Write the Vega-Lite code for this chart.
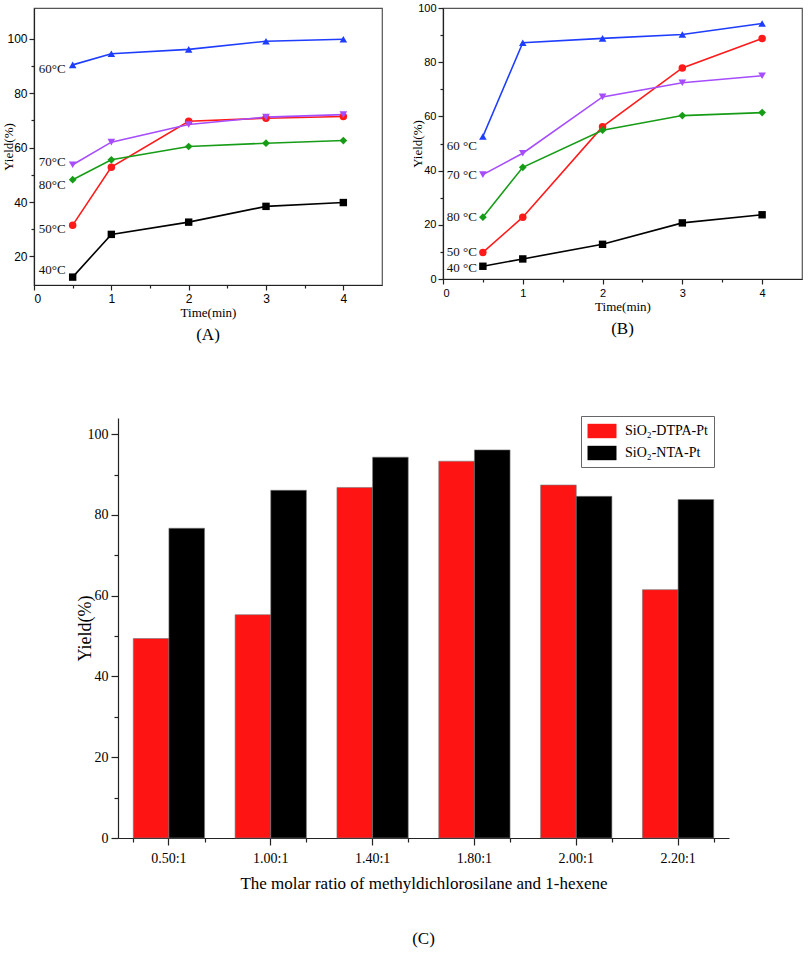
{
  "$schema": "https://vega.github.io/schema/vega-lite/v6.json",
  "background": "white",
  "padding": {"left": 2, "top": 1, "right": 2, "bottom": 5},
  "config": {
    "view": {"stroke": "#555", "strokeWidth": 1.2},
    "axis": {"grid": false, "domainColor": "#222", "tickColor": "#222", "labelColor": "#000", "titleColor": "#000", "titleFontWeight": "normal", "domainWidth": 1.2, "tickWidth": 1.2},
    "title": {"fontWeight": "normal", "color": "#000"}
  },
  "datasets": {
    "lineA": [
      {"t": 0.5, "y": 12.4, "temp": "40"}, {"t": 1, "y": 28.1, "temp": "40"}, {"t": 2, "y": 32.6, "temp": "40"}, {"t": 3, "y": 38.4, "temp": "40"}, {"t": 4, "y": 39.8, "temp": "40"},
      {"t": 0.5, "y": 31.5, "temp": "50"}, {"t": 1, "y": 52.8, "temp": "50"}, {"t": 2, "y": 69.7, "temp": "50"}, {"t": 3, "y": 70.8, "temp": "50"}, {"t": 4, "y": 71.4, "temp": "50"},
      {"t": 0.5, "y": 90.4, "temp": "60"}, {"t": 1, "y": 94.5, "temp": "60"}, {"t": 2, "y": 96.1, "temp": "60"}, {"t": 3, "y": 99.1, "temp": "60"}, {"t": 4, "y": 99.8, "temp": "60"},
      {"t": 0.5, "y": 53.7, "temp": "70"}, {"t": 1, "y": 62.0, "temp": "70"}, {"t": 2, "y": 68.5, "temp": "70"}, {"t": 3, "y": 71.2, "temp": "70"}, {"t": 4, "y": 72.1, "temp": "70"},
      {"t": 0.5, "y": 48.2, "temp": "80"}, {"t": 1, "y": 55.5, "temp": "80"}, {"t": 2, "y": 60.4, "temp": "80"}, {"t": 3, "y": 61.6, "temp": "80"}, {"t": 4, "y": 62.6, "temp": "80"}
    ],
    "lineB": [
      {"t": 0.5, "y": 4.7, "temp": "40"}, {"t": 1, "y": 7.4, "temp": "40"}, {"t": 2, "y": 12.8, "temp": "40"}, {"t": 3, "y": 20.7, "temp": "40"}, {"t": 4, "y": 23.7, "temp": "40"},
      {"t": 0.5, "y": 9.8, "temp": "50"}, {"t": 1, "y": 22.8, "temp": "50"}, {"t": 2, "y": 56.2, "temp": "50"}, {"t": 3, "y": 77.9, "temp": "50"}, {"t": 4, "y": 88.7, "temp": "50"},
      {"t": 0.5, "y": 52.6, "temp": "60"}, {"t": 1, "y": 87.2, "temp": "60"}, {"t": 2, "y": 88.8, "temp": "60"}, {"t": 3, "y": 90.2, "temp": "60"}, {"t": 4, "y": 94.3, "temp": "60"},
      {"t": 0.5, "y": 38.5, "temp": "70"}, {"t": 1, "y": 46.4, "temp": "70"}, {"t": 2, "y": 67.2, "temp": "70"}, {"t": 3, "y": 72.4, "temp": "70"}, {"t": 4, "y": 75.0, "temp": "70"},
      {"t": 0.5, "y": 22.8, "temp": "80"}, {"t": 1, "y": 41.2, "temp": "80"}, {"t": 2, "y": 54.9, "temp": "80"}, {"t": 3, "y": 60.3, "temp": "80"}, {"t": 4, "y": 61.4, "temp": "80"}
    ],
    "labA": [
      {"t": 0.5, "y": 88.9, "label": "60°C"},
      {"t": 0.5, "y": 54.7, "label": "70°C"},
      {"t": 0.5, "y": 46.3, "label": "80°C"},
      {"t": 0.5, "y": 30.1, "label": "50°C"},
      {"t": 0.5, "y": 15.0, "label": "40°C"}
    ],
    "labB": [
      {"t": 0.5, "y": 49.0, "label": "60 °C"},
      {"t": 0.5, "y": 38.5, "label": "70 °C"},
      {"t": 0.5, "y": 22.8, "label": "80 °C"},
      {"t": 0.5, "y": 9.9, "label": "50 °C"},
      {"t": 0.5, "y": 4.1, "label": "40 °C"}
    ],
    "bars": [
      {"ratio": "0.50:1", "cat": "SiO₂-DTPA-Pt", "yield": 49.4}, {"ratio": "0.50:1", "cat": "SiO₂-NTA-Pt", "yield": 76.7},
      {"ratio": "1.00:1", "cat": "SiO₂-DTPA-Pt", "yield": 55.3}, {"ratio": "1.00:1", "cat": "SiO₂-NTA-Pt", "yield": 86.1},
      {"ratio": "1.40:1", "cat": "SiO₂-DTPA-Pt", "yield": 86.8}, {"ratio": "1.40:1", "cat": "SiO₂-NTA-Pt", "yield": 94.3},
      {"ratio": "1.80:1", "cat": "SiO₂-DTPA-Pt", "yield": 93.3}, {"ratio": "1.80:1", "cat": "SiO₂-NTA-Pt", "yield": 96.1},
      {"ratio": "2.00:1", "cat": "SiO₂-DTPA-Pt", "yield": 87.4}, {"ratio": "2.00:1", "cat": "SiO₂-NTA-Pt", "yield": 84.6},
      {"ratio": "2.20:1", "cat": "SiO₂-DTPA-Pt", "yield": 61.5}, {"ratio": "2.20:1", "cat": "SiO₂-NTA-Pt", "yield": 83.8}
    ]
  },
  "spacing": 71,
  "resolve": {"scale": {"color": "independent", "shape": "independent", "size": "independent"}, "legend": {"color": "independent"}},
  "vconcat": [
    {
      "spacing": 28,
      "hconcat": [
        {
          "width": 348, "height": 277,
          "title": {"text": "(A)", "orient": "bottom", "font": "Liberation Serif", "fontSize": 17, "offset": 8},
          "resolve": {"axis": {"x": "independent", "y": "independent"}},
          "layer": [
            {
              "data": {"name": "lineA"},
              "mark": {"type": "line", "strokeWidth": 1.6},
              "encoding": {
                "x": {"field": "t", "type": "quantitative", "scale": {"domain": [0, 4.5], "nice": false},
                  "axis": {"values": [0, 1, 2, 3, 4], "format": "d", "title": "Time(min)", "titleFont": "Liberation Serif", "titleFontSize": 13, "labelFont": "Liberation Sans", "labelFontSize": 12, "tickSize": 5, "labelPadding": 3, "titlePadding": 2}},
                "y": {"field": "y", "type": "quantitative", "scale": {"domain": [9.5, 111.3], "nice": false, "zero": false},
                  "axis": {"values": [20, 40, 60, 80, 100], "title": "Yield(%)", "titleFont": "Liberation Serif", "titleFontSize": 13, "labelFont": "Liberation Sans", "labelFontSize": 12, "tickSize": 5, "labelPadding": 2, "titlePadding": -9}},
                "color": {"field": "temp", "type": "nominal", "scale": {"domain": ["40", "50", "60", "70", "80"], "range": ["#000000", "#ff1a1a", "#1f3dff", "#a64dff", "#179c17"]}, "legend": null}
              }
            },
            {
              "data": {"name": "lineA"},
              "mark": {"type": "point", "filled": true, "opacity": 1},
              "encoding": {
                "x": {"field": "t", "type": "quantitative", "axis": null},
                "y": {"field": "y", "type": "quantitative", "axis": null},
                "color": {"field": "temp", "type": "nominal", "legend": null},
                "shape": {"field": "temp", "type": "nominal", "scale": {"domain": ["40", "50", "60", "70", "80"], "range": ["square", "circle", "triangle-up", "triangle-down", "diamond"]}, "legend": null},
                "size": {"field": "temp", "type": "nominal", "scale": {"domain": ["40", "50", "60", "70", "80"], "range": [55, 60, 95, 95, 75]}, "legend": null}
              }
            },
            {
              "data": {"name": "labA"},
              "mark": {"type": "text", "align": "right", "baseline": "middle", "dx": -7, "font": "Liberation Serif", "fontSize": 13, "color": "#111"},
              "encoding": {
                "x": {"field": "t", "type": "quantitative", "axis": {"orient": "bottom", "values": [0.5, 1.5, 2.5, 3.5], "labels": false, "domain": false, "tickSize": 3, "title": null}},
                "y": {"field": "y", "type": "quantitative", "axis": {"orient": "left", "values": [30, 50, 70, 90], "labels": false, "domain": false, "tickSize": 3, "title": null}},
                "text": {"field": "label"}
              }
            }
          ]
        },
        {
          "width": 359, "height": 271,
          "title": {"text": "(B)", "orient": "bottom", "font": "Liberation Serif", "fontSize": 17, "offset": 8},
          "resolve": {"axis": {"x": "independent", "y": "independent"}},
          "layer": [
            {
              "data": {"name": "lineB"},
              "mark": {"type": "line", "strokeWidth": 1.6},
              "encoding": {
                "x": {"field": "t", "type": "quantitative", "scale": {"domain": [0, 4.5], "nice": false},
                  "axis": {"values": [0, 1, 2, 3, 4], "format": "d", "title": "Time(min)", "titleFont": "Liberation Serif", "titleFontSize": 13, "labelFont": "Liberation Sans", "labelFontSize": 11, "tickSize": 5, "labelPadding": 3, "titlePadding": 2}},
                "y": {"field": "y", "type": "quantitative", "scale": {"domain": [0, 100], "nice": false},
                  "axis": {"values": [0, 20, 40, 60, 80, 100], "title": "Yield(%)", "titleFont": "Liberation Serif", "titleFontSize": 13, "labelFont": "Liberation Sans", "labelFontSize": 11, "tickSize": 5, "labelPadding": 2, "titlePadding": -7}},
                "color": {"field": "temp", "type": "nominal", "scale": {"domain": ["40", "50", "60", "70", "80"], "range": ["#000000", "#ff1a1a", "#1f3dff", "#a64dff", "#179c17"]}, "legend": null}
              }
            },
            {
              "data": {"name": "lineB"},
              "mark": {"type": "point", "filled": true, "opacity": 1},
              "encoding": {
                "x": {"field": "t", "type": "quantitative", "axis": null},
                "y": {"field": "y", "type": "quantitative", "axis": null},
                "color": {"field": "temp", "type": "nominal", "legend": null},
                "shape": {"field": "temp", "type": "nominal", "scale": {"domain": ["40", "50", "60", "70", "80"], "range": ["square", "circle", "triangle-up", "triangle-down", "diamond"]}, "legend": null},
                "size": {"field": "temp", "type": "nominal", "scale": {"domain": ["40", "50", "60", "70", "80"], "range": [55, 60, 95, 95, 75]}, "legend": null}
              }
            },
            {
              "data": {"name": "labB"},
              "mark": {"type": "text", "align": "right", "baseline": "middle", "dx": -6, "font": "Liberation Serif", "fontSize": 13, "color": "#111"},
              "encoding": {
                "x": {"field": "t", "type": "quantitative", "axis": {"orient": "bottom", "values": [0.5, 1.5, 2.5, 3.5], "labels": false, "domain": false, "tickSize": 3, "title": null}},
                "y": {"field": "y", "type": "quantitative", "axis": {"orient": "left", "values": [10, 30, 50, 70, 90], "labels": false, "domain": false, "tickSize": 3, "title": null}},
                "text": {"field": "label"}
              }
            }
          ]
        }
      ]
    },
    {
      "spacing": 41,
      "hconcat": [
        {
          "width": 1, "height": 1,
          "view": {"stroke": null},
          "data": {"values": []},
          "mark": {"type": "point"},
          "encoding": {}
        },
        {
          "width": 611, "height": 420,
          "view": {"stroke": null},
          "title": {"text": "(C)", "orient": "bottom", "font": "Liberation Serif", "fontSize": 17, "offset": 40},
          "data": {"name": "bars"},
          "resolve": {"axis": {"x": "independent", "y": "independent"}},
          "layer": [
            {
              "mark": {"type": "bar", "stroke": "#777", "strokeWidth": 0.6},
              "encoding": {
                "x": {"field": "ratio", "type": "nominal", "sort": ["0.50:1", "1.00:1", "1.40:1", "1.80:1", "2.00:1", "2.20:1"],
                  "scale": {"paddingInner": 0.3, "paddingOuter": 0.15},
                  "axis": {"labelAngle": 0, "title": "The molar ratio of methyldichlorosilane and 1-hexene", "titleFont": "Liberation Serif", "titleFontSize": 17, "labelFont": "Liberation Serif", "labelFontSize": 14, "tickSize": 7, "labelPadding": 6, "titlePadding": 10}},
                "xOffset": {"field": "cat", "type": "nominal", "sort": ["SiO₂-DTPA-Pt", "SiO₂-NTA-Pt"], "scale": {"paddingInner": 0, "paddingOuter": 0}},
                "y": {"field": "yield", "type": "quantitative", "scale": {"domain": [0, 104], "nice": false},
                  "axis": {"values": [0, 20, 40, 60, 80, 100], "title": "Yield(%)", "titleFont": "Liberation Serif", "titleFontSize": 18, "labelFont": "Liberation Serif", "labelFontSize": 14, "tickSize": 7, "labelPadding": 3, "titlePadding": -7}},
                "color": {"field": "cat", "type": "nominal",
                  "scale": {"domain": ["SiO₂-DTPA-Pt", "SiO₂-NTA-Pt"], "range": ["#ff1414", "#000000"]},
                  "legend": {"title": null, "orient": "none", "legendX": 547, "legendY": -2, "direction": "vertical", "fillColor": "white", "strokeColor": "#666", "padding": 6, "symbolType": "M-1.61,-0.8H1.61V0.8H-1.61Z", "symbolSize": 324, "symbolOffset": 6, "symbolStrokeWidth": 0, "labelFont": "Liberation Serif", "labelFontSize": 14, "labelOffset": 14, "rowPadding": 5, "labelColor": "#000"}}
              }
            },
            {
              "mark": {"type": "point", "opacity": 0},
              "encoding": {
                "x": {"field": "ratio", "type": "nominal", "sort": ["0.50:1", "1.00:1", "1.40:1", "1.80:1", "2.00:1", "2.20:1"],
                  "axis": {"orient": "bottom", "tickBand": "extent", "labels": false, "domain": false, "tickSize": 4, "title": null}},
                "y": {"field": "yield", "type": "quantitative",
                  "axis": {"orient": "left", "values": [10, 30, 50, 70, 90], "labels": false, "domain": false, "tickSize": 4, "title": null}}
              }
            }
          ]
        }
      ]
    }
  ]
}
